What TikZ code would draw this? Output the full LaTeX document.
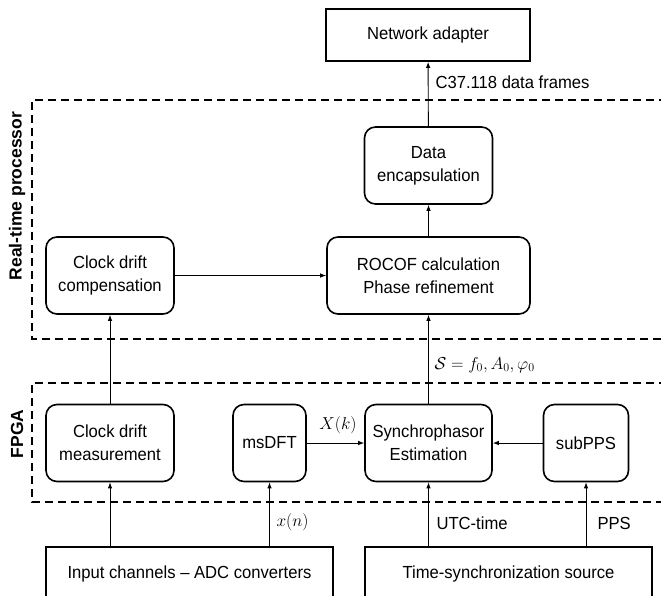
\documentclass[tikz,border=0pt]{standalone}
\usepackage{fontspec}
\setmainfont[FakeStretch=0.95]{Liberation Sans}
\newfontfamily\sidefont{Liberation Sans}
\usetikzlibrary{arrows.meta}
\begin{document}
\begin{tikzpicture}[x=1pt,y=-1pt,
                    blk/.style={draw,line width=1.6pt,rounded corners=11pt,align=center,
                                minimum height=77pt,inner sep=2pt},
                    sqbox/.style={draw,line width=1.6pt,align=center,inner sep=2pt},
                    line/.style={line width=.9pt,-{Latex[length=6pt,width=4.5pt]}},
                    zone/.style={line width=1.6pt,dash pattern=on 8pt off 5pt},
                    side/.style={rotate=90,font=\sidefont\fontsize{17.5}{20}\selectfont\bfseries},
                    mathlbl/.style={font=\fontsize{18.5}{22}\selectfont},
                    every node/.style={font=\fontsize{17.5}{23}\selectfont}]
 \clip (0,0) rectangle (661,595);
 % regions
 \draw[zone] (680,100)--(32,100)--(32,339)--(680,339);
 \draw[zone] (680,383)--(32,383)--(32,502)--(680,502);
 \node[side] at (17,196) {Real-time processor};
 \node[side] at (17,434) {FPGA};
 % blocks
 \node[sqbox,minimum width=204pt,minimum height=52pt] (net) at (428,35) {Network adapter};
 \node[blk,minimum width=128pt] (data) at (428.5,165.5) {Data\\encapsulation};
 \node[blk,minimum width=128pt] (comp) at (110,275.5) {Clock drift\\compensation};
 \node[blk,minimum width=203pt] (rocof) at (428.5,275.5) {ROCOF calculation\\Phase refinement};
 \node[blk,minimum width=128pt] (meas) at (110,443) {Clock drift\\measurement};
 \node[blk,minimum width=73pt] (msdft) at (269.5,443) {msDFT};
 \node[blk,minimum width=127pt] (synch) at (428.5,443) {Synchrophasor\\Estimation};
 \node[blk,minimum width=85pt] (subpps) at (586,443) {subPPS};
 \node[sqbox,minimum width=287pt,minimum height=54pt] (input) at (189.5,574) {Input channels – ADC converters};
 \node[sqbox,minimum width=287pt,minimum height=54pt] (time) at (508.5,574) {Time-synchronization source};
 % connectors
 \draw[line] (data)--(net);
 \draw[line] (rocof)--(data);
 \draw[line] (comp)--(rocof);
 \draw[line] (meas)--(comp);
 \draw[line] (synch)--(rocof);
 \draw[line] (msdft)--(synch);
 \draw[line] (subpps)--(synch);
 \draw[line] (input.north -| meas.south)--(meas);
 \draw[line] (input.north -| msdft.south)--(msdft);
 \draw[line] (time.north -| synch.south)--(synch);
 \draw[line] (time.north -| subpps.south)--(subpps);
 % labels
 \node[anchor=west] at (432,82) {C37.118 data frames};
 \node[mathlbl,anchor=west] at (431,365) {$\mathcal{S}=f_0,A_0,\varphi_0$};
 \node[mathlbl] at (338,425) {$X(k)$};
 \node[mathlbl,anchor=west] at (273,522) {$x(n)$};
 \node[anchor=west] at (433,523) {UTC-time};
 \node[anchor=west] at (594,523) {PPS};
\end{tikzpicture}
\end{document}
